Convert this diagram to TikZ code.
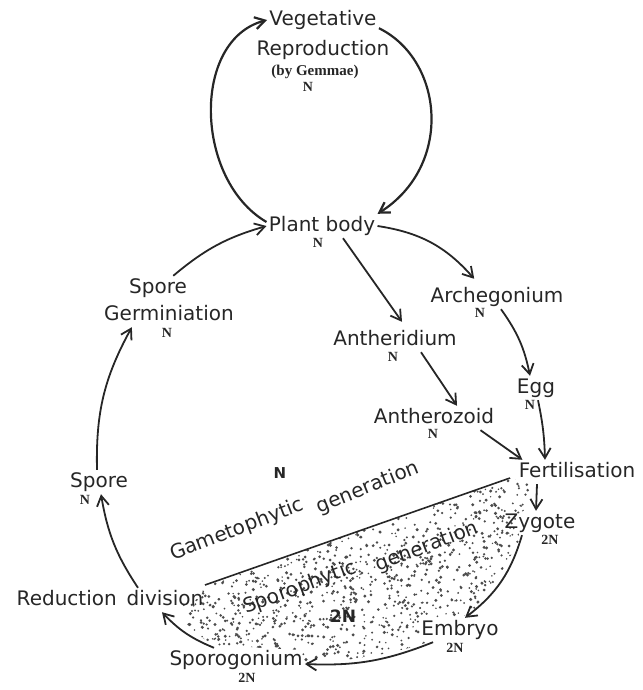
\documentclass[tikz,border=0pt]{standalone}
\usepackage{fontspec}
\setmainfont{DejaVu Sans}
\newfontfamily\ploidfont{Liberation Serif}
\usetikzlibrary{arrows.meta}
\tikzset{
  stage/.style={font=\fontsize{10}{12}\selectfont, inner sep=1pt, text height=7.6pt, text depth=2.2pt, text=black!85},
  ploid/.style={font=\ploidfont\bfseries\fontsize{7}{8}\selectfont, inner sep=0pt, text=black!85},
  cycarrow/.style={line width=0.9pt, draw=black!85, -{Straight Barb[length=5pt,width=6pt]}},
}

\begin{document}
\begin{tikzpicture}[x=0.5pt, y=-0.5pt]
\useasboundingbox (0,0) rectangle (642,690);
% --- stippled sporophytic region ---
\begin{scope}
\clip (205,585) -- (510,478) -- (540,484) -- (535,505) -- (515,515) -- (520,540)
  .. controls (500,575) and (485,600) .. (468,615) -- (420,622) -- (425,643)
  .. controls (390,655) and (340,662) .. (305,663) -- (300,650) -- (215,645)
  .. controls (195,635) and (180,620) .. (172,608) -- (200,598) -- cycle;
\pgfmathsetseed{4}
\foreach \k in {1,...,1900} {
  \pgfmathsetmacro\px{170+375*rnd}
  \pgfmathsetmacro\py{475+195*rnd}
  \pgfmathsetmacro\pr{0.4+0.45*rnd}
  \fill[black!70] (\px,\py) circle[radius=\pr pt];
}
\end{scope}
\draw[line width=0.8pt, black!85] (205,585) -- (510,478);
% --- stages ---
\node[stage] (vega) at (323,20) {Vegetative};
\node[stage] (vegb) at (323,50) {Reproduction};
\node[ploid, font=\ploidfont\bfseries\fontsize{7.5}{8}\selectfont] (gem) at (315,72) {(by Gemmae)};
\node[ploid] (vegN) at (308,87) {N};
\node[stage] (pb) at (322,226) {Plant body};
\node[ploid] (pbN) at (318,243) {N};
\node[stage] (arch) at (497,297) {Archegonium};
\node[ploid] (archN) at (480,313) {N};
\node[stage] (anthd) at (395,340) {Antheridium};
\node[ploid] (anthdN) at (393,357) {N};
\node[stage] (egg) at (536,388) {Egg};
\node[ploid] (eggN) at (530,405) {N};
\node[stage] (anthz) at (434,418) {Antherozoid};
\node[ploid] (anthzN) at (433,434) {N};
\node[stage] (fert) at (577,472) {Fertilisation};
\node[stage] (zyg) at (540,523) {Zygote};
\node[ploid] (zygN) at (550,540) {2N};
\node[stage] (emb) at (460,630) {Embryo};
\node[ploid] (embN) at (455,648) {2N};
\node[stage] (sporog) at (236,660) {Sporogonium};
\node[ploid] (sporogN) at (247,678) {2N};
\node[stage] (red) at (110,600) {Reduction\enspace division};
\node[stage] (spore) at (99,482) {Spore};
\node[ploid] (sporeN) at (85,500) {N};
\node[stage] (sga) at (158,288) {Spore};
\node[stage] (sgb) at (169,315) {Germiniation};
\node[ploid] (sgN) at (167,333) {N};
% --- generations ---
\node[stage, inner sep=0pt, rotate=21] (gamw) at (237,530) {Gametophytic};
\node[stage, inner sep=0pt, rotate=22] (gamgen) at (368,488) {generation};
\node[stage, inner sep=0pt, rotate=20.5] (sporw) at (300,588) {Sporophytic};
\node[stage, inner sep=0pt, rotate=21] (sporgen) at (427,547) {generation};
\node[font=\bfseries\fontsize{7.5}{8}\selectfont, text=black!85] (gamN) at (280,473) {N};
\node[font=\bfseries\fontsize{8.5}{9}\selectfont, text=black!85] (sporN) at (343,616) {2N};
% --- vegetative loop ---
\draw[cycarrow, line width=1.1pt] ([yshift=2pt]pb.west) .. controls +(-72,-42) and +(-76,20) .. (vega.west);
\draw[cycarrow, line width=1.1pt] ([yshift=2pt]vega.south east) .. controls +(65,32) and +(76,-48) .. (pb.north east);
% --- sexual cycle ---
\draw[cycarrow] (pb.east) to[bend left=20] ([xshift=23pt,yshift=3pt]arch.north west);
\draw[cycarrow] ([xshift=10.5pt]pb.south) -- ([xshift=3.5pt,yshift=3pt]anthd.north);
\draw[cycarrow] ([xshift=2pt]arch.south) to[bend left=12] ([xshift=-3pt]egg.north);
\draw[cycarrow] ([xshift=13pt]anthd.south) -- ([xshift=11.5pt]anthz.north);
\draw[cycarrow] ([xshift=1pt]egg.south) to[bend left=5] ([xshift=-16pt]fert.north);
\draw[cycarrow] ([xshift=-8pt]anthz.south east) -- ([xshift=3pt]fert.north west);
\draw[cycarrow] ([xshift=-20pt]fert.south) -- ([xshift=-2pt]zyg.north);
\draw[cycarrow] ([xshift=-9pt]zyg.south) to[bend left=18] ([xshift=2.5pt]emb.north);
\draw[cycarrow] ([xshift=7pt]emb.south west) to[bend left=12] ([yshift=-2pt]sporog.east);
\draw[cycarrow] ([xshift=-11pt]sporog.north) to[bend left=12] ([xshift=26pt]red.south);
\draw[cycarrow] ([xshift=14pt]red.north) to[bend left=12] ([xshift=1pt]spore.south);
\draw[cycarrow] ([xshift=-1pt]spore.north) to[bend left=15] ([xshift=15pt]sgb.south west);
\draw[cycarrow] ([xshift=-8pt]sga.north east) to[bend left=12] (pb.west);
\end{tikzpicture}
\end{document}
